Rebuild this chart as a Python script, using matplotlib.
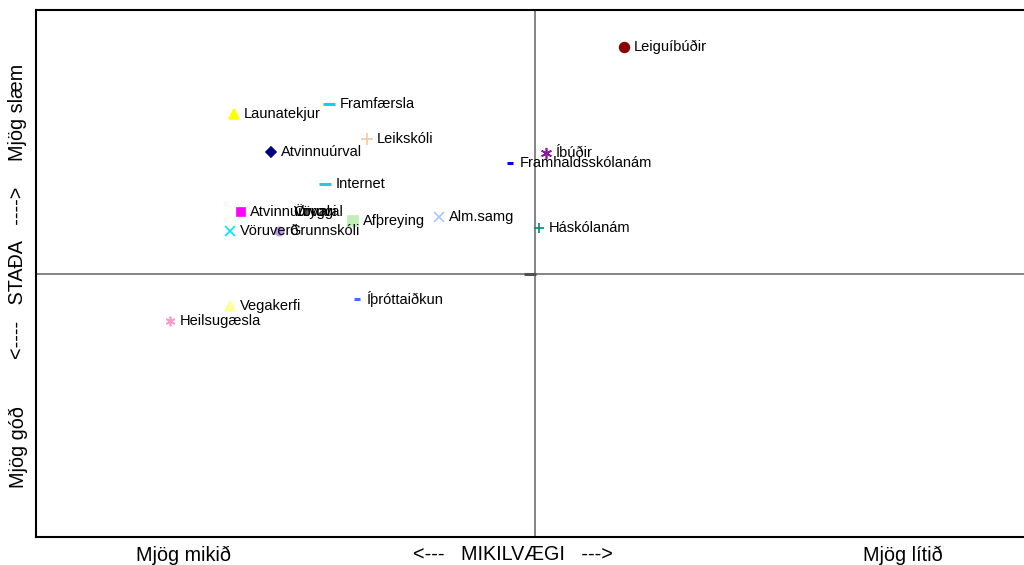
import matplotlib
matplotlib.use("Agg")
import matplotlib.pyplot as plt

plt.rcParams['font.family'] = ['Liberation Sans', 'DejaVu Sans']

names = ["Leiguíbúðir", "Framfærsla", "Launatekjur", "Leikskóli", "Atvinnuúrval",
         "Íbúðir", "Framhaldsskólanám", "Internet", "Atvinnuúrval", "Öryggi", "Vöruval",
         "Afþreying", "Alm.samg", "Háskólanám", "Vöruverð", "Grunnskóli",
         "Vegakerfi", "Heilsugæsla", "Íþróttaiðkun", ""]
importance = [59.5, 29.7, 20.0, 33.5, 23.8,
              51.6, 48.0, 29.3, 20.7, 25.0, 25.1,
              32.1, 40.8, 50.9, 19.6, 24.6,
              19.6, 13.6, 32.5, 50.0]
status = [93.0, 82.2, 80.3, 75.5, 73.1,
          72.9, 71.0, 67.0, 61.7, 61.8, 61.7,
          60.0, 60.7, 58.6, 58.1, 58.1,
          43.8, 41.0, 45.2, 50.0]

ast = (6, 2, 0)
styles = [
    ("o", "#8B0000", 7),
    ("_", "#1EC8F0", 9),
    ("^", "#FFFF00", 7),
    ("+", "#F5C8A0", 8),
    ("D", "#000080", 5),
    (ast, "#8B1A9B", 8),
    ("_", "#0000FF", 5),
    ("_", "#30C8D0", 8),
    ("s", "#FF00FF", 6),
    ("o", "#FFFFFF", 1),
    ("o", "#FFFFFF", 1),
    ("s", "#C0F0B8", 7),
    ("x", "#A8C8FF", 7),
    ("+", "#008B80", 7),
    ("x", "#00E8F0", 7),
    ("o", "#B89AE8", 6),
    ("^", "#FFFF99", 7),
    (ast, "#FF99CC", 7),
    ("_", "#4070F0", 5),
    ("_", "#505050", 8),
]

fig = plt.figure(figsize=(10.24, 5.65), dpi=100)
ax = fig.add_axes([36/1024, 28/565, 1 - 36/1024, (537-10)/565])
ax.set_xlim(0, 100)
ax.set_ylim(0, 100)

ax.axvline(50.5, color="#707070", lw=1.2, zorder=1)
ax.axhline(50.0, color="#707070", lw=1.2, zorder=1)

for n, x, y, (m, c, s) in zip(names, importance, status, styles):
    ax.plot([x], [y], linestyle="none", marker=m, color=c, markersize=s,
            markeredgewidth=2.2 if m == "_" else 1.2, zorder=3)
    if n:
        ax.text(x + 1.0, y, n, fontsize=10.5, va="center", ha="left", color="black", zorder=4)

ax.set_xticks([])
ax.set_yticks([])
for side in ["left", "top", "bottom"]:
    ax.spines[side].set_linewidth(1.5)
    ax.spines[side].set_color("black")
ax.spines["right"].set_visible(False)

fs = 14.2
fig.text(183/1024, 1 - 555/565, "Mjög mikið", fontsize=fs, ha="center", va="center")
fig.text(513/1024, 1 - 555/565, "<---   MIKILVÆGI   --->", fontsize=fs, ha="center", va="center")
fig.text(903/1024, 1 - 555/565, "Mjög lítið", fontsize=fs, ha="center", va="center")

fig.text(18/1024, 1 - 112/565, "Mjög slæm", fontsize=fs, ha="center", va="center", rotation=90)
fig.text(18/1024, 1 - 273/565, "<----   STAÐA   ---->", fontsize=fs, ha="center", va="center", rotation=90)
fig.text(18/1024, 1 - 447/565, "Mjög góð", fontsize=fs, ha="center", va="center", rotation=90)

fig.savefig("out.png", dpi=100)
